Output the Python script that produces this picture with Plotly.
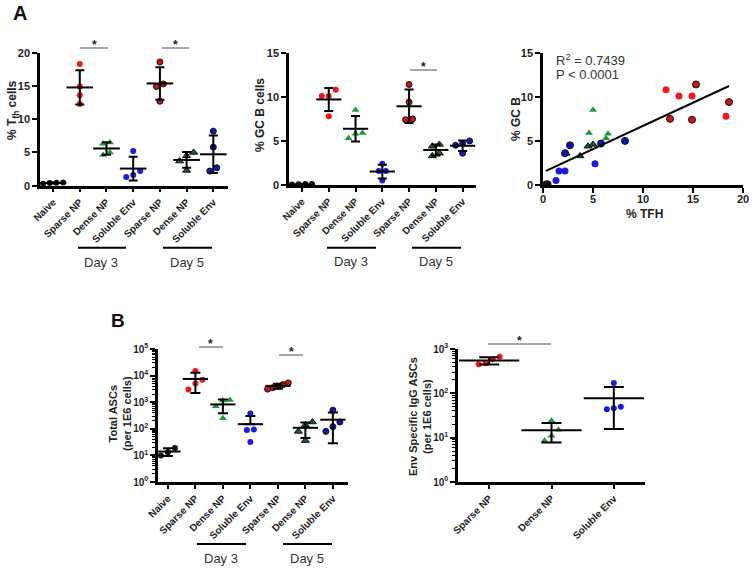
import numpy as np
import plotly.graph_objects as go

W, H = 755, 573
FONT = "Arial, Liberation Sans, sans-serif"

# ---------------- data ----------------
CATS_TIME = ["Naive", "Sparse NP", "Dense NP", "Soluble Env", "Sparse NP", "Dense NP", "Soluble Env"]
CATS_ENV = ["Sparse NP", "Dense NP", "Soluble Env"]

# % Tfh cells per mouse (panel A left); paired with GC B below (same order)
tfh_naive = [0.3, 0.4, 0.45, 0.5]
tfh_sparse_d3 = [12.3, 13.6, 14.9, 18.3]
tfh_dense_d3 = [4.6, 5.0, 6.3, 6.5]
tfh_soluble_d3 = [1.3, 1.6, 2.2, 5.2]
tfh_sparse_d5 = [12.7, 14.9, 15.3, 18.6]
tfh_dense_d5 = [2.3, 3.7, 4.5, 5.0]
tfh_soluble_d5 = [2.2, 2.7, 5.8, 8.2]

# % GC B cells per mouse (panel A middle)
gcb_naive = [0.1, 0.05, 0.1, 0.08]
gcb_sparse_d3 = [10.8, 10.1, 10.1, 7.8]
gcb_dense_d3 = [5.9, 8.5, 5.3, 5.8]
gcb_soluble_d3 = [0.5, 1.6, 1.6, 2.4]
gcb_sparse_d5 = [7.5, 7.4, 11.4, 9.4]
gcb_dense_d5 = [3.6, 3.3, 4.4, 4.6]
gcb_soluble_d5 = [3.6, 4.5, 4.7, 5.0]

# Total ASCs per 1E6 cells (panel B left)
asc_naive = [19, 10, 13]
asc_sparse_d3 = [15000, 7000, 5000, 3000]
asc_dense_d3 = [1200, 1150, 700, 250]
asc_soluble_d3 = [380, 95, 90, 32]
asc_sparse_d5 = [5300, 4600, 4000, 3500, 3100]
asc_dense_d5 = [180, 140, 80, 36]
asc_soluble_d5 = [500, 180, 120, 80]

# Env specific IgG ASCs per 1E6 cells (panel B right)
env_sparse = [670, 590, 480, 455]
env_dense = [24, 15, 11, 8.5]
env_soluble = [170, 50, 46, 44]

R2_TEXT = "R<sup>2</sup> = 0.7439"
P_TEXT = "P < 0.0001"

TFH = [tfh_naive, tfh_sparse_d3, tfh_dense_d3, tfh_soluble_d3, tfh_sparse_d5, tfh_dense_d5, tfh_soluble_d5]
GCB = [gcb_naive, gcb_sparse_d3, gcb_dense_d3, gcb_soluble_d3, gcb_sparse_d5, gcb_dense_d5, gcb_soluble_d5]
ASC = [asc_naive, asc_sparse_d3, asc_dense_d3, asc_soluble_d3, asc_sparse_d5, asc_dense_d5, asc_soluble_d5]
ENV = [env_sparse, env_dense, env_soluble]

# ---------------- styles ----------------
STY = [
    dict(color="#111111", symbol="circle", line=None),
    dict(color="#f01818", symbol="circle", line=None),
    dict(color="#1f9a36", symbol="triangle-up", line=None),
    dict(color="#1a1ae0", symbol="circle", line=None),
    dict(color="#cc1414", symbol="circle", line="#111111"),
    dict(color="#1d5a2c", symbol="triangle-up", line="#111111"),
    dict(color="#1414b4", symbol="circle", line="#111111"),
]


def X(px):
    return px / W


def Y(py):
    return 1 - py / H


fig = go.Figure()


def spread(vals, px_unit, px_cat, log, msize):
    t = np.log10(vals) if log else np.array(vals, float)
    p = t * px_unit
    order = np.argsort(p)
    offs = np.zeros(len(vals))
    clusters, cur = [], [order[0]]
    for a, b in zip(order[:-1], order[1:]):
        if p[b] - p[a] < msize + 1:
            cur.append(b)
        else:
            clusters.append(cur)
            cur = [b]
    clusters.append(cur)
    for c in clusters:
        k = len(c)
        if k == 1:
            continue
        sp = min(msize + 1, 0.75 * px_cat / (k - 1))
        for j, idx in enumerate(c):
            offs[idx] = (j - (k - 1) / 2) * sp / px_cat
    return offs


def add_group(xa, ya, i, vals, sty, px_unit, px_cat, log, cap_w, mean_w, msize=6):
    offs = spread(vals, px_unit, px_cat, log, msize)
    mk = dict(color=sty["color"], symbol=sty["symbol"], size=msize + (1 if sty["symbol"] != "circle" else 0))
    if sty["line"]:
        mk["line"] = dict(color=sty["line"], width=1)
    else:
        mk["line"] = dict(width=0)
    fig.add_trace(go.Scatter(x=i + offs, y=vals, mode="markers", marker=mk, xaxis=xa, yaxis=ya,
                             cliponaxis=False, showlegend=False, hoverinfo="skip"))
    m = float(np.mean(vals))
    sd = float(np.std(vals, ddof=1))
    minus = sd if (not log or m - sd > 0) else 0.0
    fig.add_trace(go.Scatter(x=[i], y=[m], mode="markers", xaxis=xa, yaxis=ya, cliponaxis=False,
                             marker=dict(symbol="line-ew", size=mean_w, color="black",
                                         line=dict(width=2, color="black")),
                             error_y=dict(type="data", array=[sd], arrayminus=[minus], color="black",
                                          thickness=2, width=cap_w),
                             showlegend=False, hoverinfo="skip"))


# geometry (pixels)
A1 = dict(x0=40, x1=228, y0=52.7, y1=185.7, xr=[-0.49, 6.55], yr=[0, 20])
A2 = dict(x0=289, x1=476, y0=52.7, y1=185.0, xr=[-0.485, 6.5], yr=[0, 15])
A3 = dict(x0=543, x1=743, y0=52.7, y1=185.0, xr=[0, 20], yr=[0, 15])
B1 = dict(x0=158, x1=348, y0=349, y1=482, xr=[-0.36, 6.55], yr=[0, 5])
B2 = dict(x0=458, x1=645, y0=349, y1=482, xr=[-0.5, 2.5], yr=[0, 3])


def pxu(P):
    return (P["y1"] - P["y0"]) / (P["yr"][1] - P["yr"][0]), (P["x1"] - P["x0"]) / (P["xr"][1] - P["xr"][0])


# Panel A left
pu, pc = pxu(A1)
for i in range(7):
    add_group("x", "y", i, TFH[i], STY[i], pu, pc, False, 4.5, 19)
# Panel A middle
pu, pc = pxu(A2)
for i in range(7):
    add_group("x2", "y2", i, GCB[i], STY[i], pu, pc, False, 4.5, 18)
# Panel A right: scatter
for i in range(7):
    s = STY[i]
    mk = dict(color=s["color"], symbol=s["symbol"], size=7,
              line=dict(color=s["line"], width=1) if s["line"] else dict(width=0))
    fig.add_trace(go.Scatter(x=TFH[i], y=GCB[i], mode="markers", marker=mk, xaxis="x3", yaxis="y3",
                             cliponaxis=False, showlegend=False, hoverinfo="skip"))
allx = np.concatenate([np.array(v, float) for v in TFH])
ally = np.concatenate([np.array(v, float) for v in GCB])
k, b = np.polyfit(allx, ally, 1)
xl = np.array([allx.min(), allx.max()])
fig.add_trace(go.Scatter(x=xl, y=k * xl + b, mode="lines", line=dict(color="black", width=2),
                         xaxis="x3", yaxis="y3", showlegend=False, hoverinfo="skip"))
# Panel B left
pu, pc = pxu(B1)
for i in range(7):
    add_group("x4", "y4", i, ASC[i], STY[i], pu, pc, True, 5, 18)
# Panel B right
pu, pc = pxu(B2)
for j in range(3):
    add_group("x5", "y5", j, ENV[j], STY[j + 1], pu, pc, True, 10, 43)

tickfont = dict(family=FONT, size=11, color="#222", weight="bold")
xtickfont = dict(family=FONT, size=10, color="#222", weight="bold")
logfont = dict(family=FONT, size=10, color="#222", weight="bold")


def xaxis_cfg(P, cats=None):
    d = dict(domain=[X(P["x0"]), X(P["x1"])], range=P["xr"], showline=True, linewidth=2.5, linecolor="black",
             ticks="outside", ticklen=4, tickwidth=2, tickcolor="black", showgrid=False, zeroline=False,
             automargin=False, fixedrange=True)
    if cats is not None:
        d.update(tickvals=list(range(len(cats))), ticktext=cats, tickangle=-45, tickfont=xtickfont)
    return d


def yaxis_cfg(P, log=False, dtick=5):
    d = dict(domain=[Y(P["y1"]), Y(P["y0"])], showline=True, linewidth=2.5, linecolor="black",
             ticks="outside", ticklen=5, tickwidth=2, tickcolor="black", showgrid=False, zeroline=False,
             automargin=False, fixedrange=True, range=P["yr"])
    if log:
        n = P["yr"][1]
        d.update(type="log", tickvals=[10 ** e for e in range(n + 1)],
                 ticktext=["10<sup>%d</sup>" % e for e in range(n + 1)], tickfont=logfont,
                 minor=dict(ticks="outside", ticklen=3, tickwidth=1, tickcolor="black", dtick="D1"))
    else:
        d.update(tickvals=list(range(0, P["yr"][1] + 1, dtick)), tickfont=tickfont)
    return d


x3cfg = xaxis_cfg(A3)
x3cfg.update(tickvals=[0, 5, 10, 15, 20], tickfont=tickfont, ticklen=5, ticklabelstandoff=-3)

fig.update_layout(
    width=W, height=H, margin=dict(l=0, r=0, t=0, b=0), template="none",
    paper_bgcolor="white", plot_bgcolor="white", showlegend=False,
    xaxis=dict(**xaxis_cfg(A1, CATS_TIME), anchor="y"),
    yaxis=dict(**yaxis_cfg(A1), anchor="x"),
    xaxis2=dict(**xaxis_cfg(A2, CATS_TIME), anchor="y2"),
    yaxis2=dict(**yaxis_cfg(A2), anchor="x2"),
    xaxis3=dict(**x3cfg, anchor="y3"),
    yaxis3=dict(**yaxis_cfg(A3), anchor="x3"),
    xaxis4=dict(**xaxis_cfg(B1, CATS_TIME), anchor="y4"),
    yaxis4=dict(**yaxis_cfg(B1, log=True), anchor="x4"),
    xaxis5=dict(**xaxis_cfg(B2, CATS_ENV), anchor="y5"),
    yaxis5=dict(**yaxis_cfg(B2, log=True), anchor="x5"),
)

shapes = []
annots = []


def line(x0, x1, y, color="black", width=2):
    shapes.append(dict(type="line", xref="paper", yref="paper", x0=X(x0), x1=X(x1), y0=Y(y), y1=Y(y),
                       line=dict(color=color, width=width)))


def text(x, y, t, size=12, bold=False, color="#222", angle=0, xanchor="center", yanchor="middle"):
    annots.append(dict(x=X(x), y=Y(y), xref="paper", yref="paper", text=t, showarrow=False,
                       textangle=angle, xanchor=xanchor, yanchor=yanchor,
                       font=dict(family=FONT, size=size, color=color, weight="bold" if bold else "normal")))


day_specs = [(78, 126, 101, 247.7, 262, "Day 3"), (163, 212, 187, 247.7, 262, "Day 5"),
             (327, 376, 351, 247.7, 261, "Day 3"), (412, 461, 436, 247.7, 261, "Day 5"),
             (197, 246, 221, 544, 558, "Day 3"), (283, 332, 307, 544, 558, "Day 5")]
for a, b_, tx, yl, yt, lab in day_specs:
    line(a, b_, yl, width=2)
    text(tx, yt, lab, size=13, color="#333")

# significance bars
for a, b_, y in [(80, 108, 48), (162, 189, 48), (410, 437, 70), (199, 223, 347), (279, 303, 355), (488, 551, 344)]:
    line(a, b_, y, color="#8a8a8a", width=1.5)
    text((a + b_) / 2, y - 3, "*", size=12, bold=True, color="#222")

# axis titles
text(13, 110, "% T<sub>fh</sub> cells", size=12, bold=True, angle=-90)
text(260, 115, "% GC B cells", size=12, bold=True, angle=-90)
text(516, 119, "% GC B", size=12, bold=True, angle=-90)
text(644, 214, "% TFH", size=12, bold=True)
text(120, 414, "Total ASCs<br>(per 1E6 cells)", size=11, bold=True, angle=-90)
text(420, 416, "Env Specific IgG ASCs<br>(per 1E6 cells)", size=11, bold=True, angle=-90)

# regression text
text(554, 60, R2_TEXT, size=13, color="#333", xanchor="left")
text(554, 74, P_TEXT, size=13, color="#333", xanchor="left")

# panel labels
text(20, 13, "A", size=20, bold=True, color="#111")
text(118, 320, "B", size=19, bold=True, color="#111")

fig.update_layout(shapes=shapes, annotations=annots)
fig.write_html("out.html", config={"displayModeBar": False},
               post_script="document.body.style.margin='0';document.body.style.overflow='hidden';")
